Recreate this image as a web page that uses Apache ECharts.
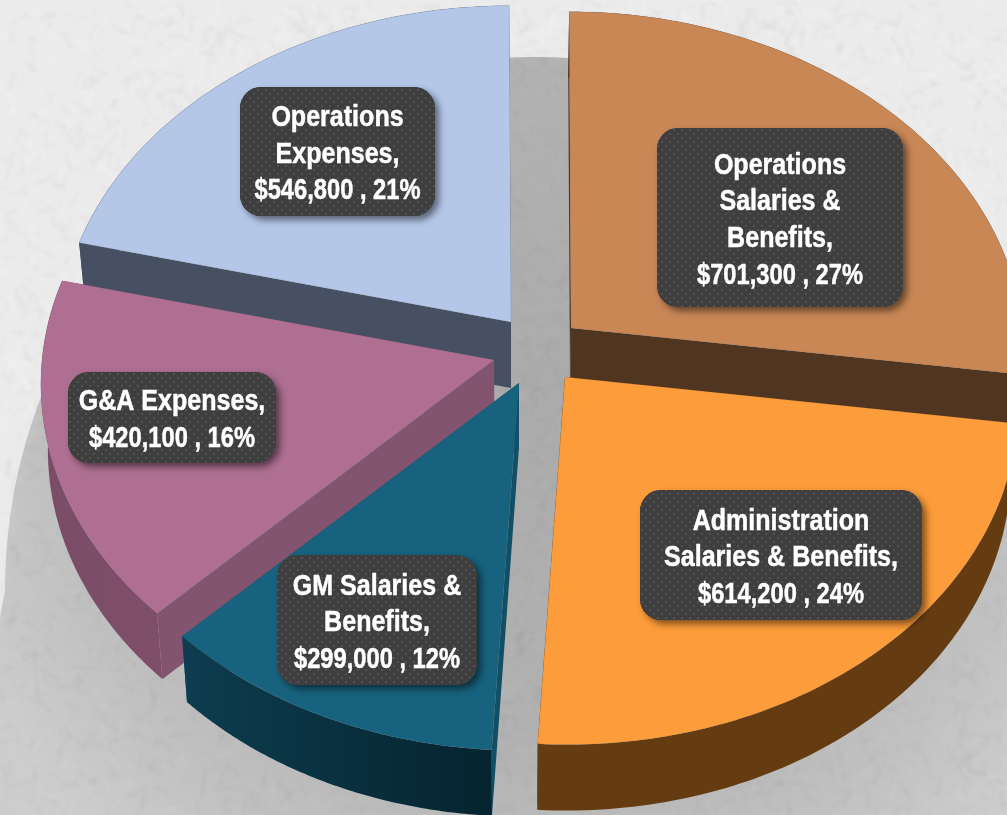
<!DOCTYPE html>
<html>
<head>
<meta charset="utf-8">
<style>html,body{margin:0;padding:0;background:#ececec}#c{width:1007px;height:815px}</style>
<script src="https://cdn.jsdelivr.net/npm/echarts@6/dist/echarts.min.js"></script>
</head>
<body>
<div id="c"></div>
<script>
// ---- data ----
const categories = [
  "Operations\nSalaries &\nBenefits,",
  "Administration\nSalaries & Benefits,",
  "GM Salaries &\nBenefits,",
  "G&A Expenses,",
  "Operations\nExpenses,"
];
const values = [701300, 614200, 299000, 420100, 546800];

// ---- styles ----
const topColors   = ["#c98756", "#fd9c3a", "#17627e", "#ae6f92", "#b4c7e9"];
const faceColors  = ["#503520", "#653c12", "#114f66", "#835470", "#465062"];
const outerFrom   = ["#503520", "#653c12", "#0d3d4f", "#7a4c66", "#465062"];
const outerTo     = ["#503520", "#653c12", "#05242f", "#7f4e6b", "#465062"];
const explodeX    = [31, 25, -21, -46, -29];
const explodeY    = [-27, 22, 28, 5, -33];
const drawOrder   = [4, 0, 3, 1, 2];
const boxLeft     = [657, 640, 277, 68, 240];
const boxTop      = [128, 490, 555, 372, 87];
const boxWidth    = [246, 282, 200, 208, 195];
const boxHeight   = [179, 130, 130, 91, 129];

const pieCx = 540, pieCy = 355, pieRx = 452, pieRy = 340, perspective = 0.075, shear = 2;
const depth = 66, taper = 0.015, taperCx = 510;
const lineStep = 36.6, nameScale = 0.835, valueScale = 0.79;

// ---- textures ----
function makeBackground() {
  const raw = document.createElement('canvas');
  raw.width = 1007; raw.height = 815;
  const r = raw.getContext('2d');
  r.fillStyle = '#ebebeb';
  r.fillRect(0, 0, 1007, 815);
  let s = 12345;
  const next = () => (s = (s * 1664525 + 1013904223) % 4294967296) / 4294967296;
  r.lineCap = 'round';
  for (let i = 0; i < 9000; i++) {
    const x = next() * 1007, y = next() * 815, a = next() * 3.14, l = 4 + next() * 16;
    r.strokeStyle = next() > 0.5 ? 'rgba(255,255,255,0.12)' : 'rgba(175,175,175,0.08)';
    r.lineWidth = 1 + next() * 4;
    r.beginPath();
    r.moveTo(x, y);
    r.lineTo(x + Math.cos(a) * l, y + Math.sin(a) * l);
    r.stroke();
  }
  const cv = document.createElement('canvas');
  cv.width = 1007; cv.height = 815;
  const g = cv.getContext('2d');
  g.filter = 'blur(1.5px)';
  g.drawImage(raw, 0, 0);
  return cv;
}
function makeDots() {
  const cv = document.createElement('canvas');
  cv.width = 8; cv.height = 8;
  const g = cv.getContext('2d');
  g.fillStyle = '#3e3e3e';
  g.fillRect(0, 0, 8, 8);
  g.fillStyle = '#5a5a5a';
  g.beginPath(); g.arc(2, 2, 1, 0, 7); g.arc(6, 6, 1, 0, 7); g.fill();
  return cv;
}
const dotPattern = { image: makeDots(), repeat: 'repeat' };

// ---- geometry derived from the values ----
const total = values.reduce((a, b) => a + b, 0);
const startAngles = [];
values.reduce((acc, v, i) => { startAngles[i] = acc; return acc + v / total * Math.PI * 2; }, 0);
const money = v => '$' + v.toLocaleString('en-US');
const valueLine = i => money(values[i]) + ' , ' + Math.round(values[i] / total * 100) + '%';

function renderSlice(params, api) {
  const i = api.value(0);
  const a0 = startAngles[i], a1 = a0 + values[i] / total * Math.PI * 2;
  const ax = pieCx + explodeX[i], ay = pieCy + explodeY[i];
  const pt = t => {
    const u = Math.sin(t), v = Math.cos(t), d = 1 + perspective * v;
    return [ax + (pieRx * u - shear * v) / d, ay - pieRy * v / d];
  };
  const down = p => [p[0] + (taperCx - p[0]) * taper, p[1] + depth];
  const arc = [];
  const steps = 90;
  for (let k = 0; k <= steps; k++) arc.push(pt(a0 + (a1 - a0) * k / steps));
  const apex = [ax, ay];
  const apexD = down(apex);
  const children = [];
  children.push({ type: 'polygon', shape: { points: [apex, arc[steps], down(arc[steps]), apexD] }, style: { fill: faceColors[i] } });
  children.push({ type: 'polygon', shape: { points: [apex, arc[0], down(arc[0]), apexD] }, style: { fill: faceColors[i] } });
  children.push({
    type: 'polygon',
    shape: { points: arc.concat(arc.map(down).reverse()) },
    style: { fill: { type: 'linear', x: 0, y: 0, x2: 1, y2: 0, colorStops: [{ offset: 0, color: outerFrom[i] }, { offset: 1, color: outerTo[i] }] } }
  });
  children.push({
    type: 'polygon',
    shape: { points: [apex].concat(arc) },
    style: { fill: topColors[i], stroke: 'rgba(90,90,90,0.2)', lineWidth: 0.6 }
  });
  return { type: 'group', children };
}

function renderShadow() {
  const pts = [];
  for (let k = 0; k <= 90; k++) {
    const t = -Math.PI / 2 + k / 90 * Math.PI;
    pts.push([535 + 530 * Math.sin(t), 590 - 533 * Math.cos(t)]);
  }
  pts.push([1065, 830], [-40, 830]);
  return {
    type: 'polygon',
    shape: { points: pts },
    style: {
      fill: { type: 'radial', x: 535, y: 400, r: 620, global: true,
        colorStops: [{ offset: 0, color: 'rgba(0,0,0,0.26)' }, { offset: 0.55, color: 'rgba(0,0,0,0.23)' }, { offset: 1, color: 'rgba(0,0,0,0.12)' }] },
      shadowBlur: 10, shadowColor: 'rgba(0,0,0,0.08)'
    }
  };
}

function renderLabel(params, api) {
  const i = api.value(0);
  const x = boxLeft[i], y = boxTop[i], w = boxWidth[i], h = boxHeight[i];
  const names = categories[i].split('\n');
  const lines = names.concat([valueLine(i)]);
  const children = [
    { type: 'rect', shape: { x, y, width: w, height: h, r: 21 },
      style: { fill: '#3e3e3e', shadowBlur: 7, shadowOffsetX: 4, shadowOffsetY: 4, shadowColor: 'rgba(0,0,0,0.5)' } },
    { type: 'rect', shape: { x, y, width: w, height: h, r: 21 }, style: { fill: dotPattern } }
  ];
  lines.forEach((line, k) => {
    children.push({
      type: 'text',
      x: x + w / 2,
      y: y + h / 2 + 3 + (k - (lines.length - 1) / 2) * lineStep,
      scaleX: k < names.length ? nameScale : valueScale,
      style: { text: line, fill: '#ffffff', stroke: '#ffffff', lineWidth: 0.5, align: 'center', verticalAlign: 'middle',
        font: 'bold 30px "Liberation Sans", sans-serif' }
    });
  });
  return { type: 'group', children };
}

const chart = echarts.init(document.getElementById('c'), null, { renderer: 'canvas', width: 1007, height: 815 });
chart.setOption({
  animation: false,
  backgroundColor: { image: makeBackground(), repeat: 'no-repeat' },
  series: [
    { type: 'custom', coordinateSystem: 'none', z: 1, silent: true, data: [[0]], renderItem: renderShadow },
    { type: 'custom', coordinateSystem: 'none', z: 2, silent: true, data: drawOrder.map(i => [i]), renderItem: renderSlice },
    { type: 'custom', coordinateSystem: 'none', z: 3, silent: true, data: values.map((v, i) => [i]), renderItem: renderLabel }
  ]
});
</script>
</body>
</html>
